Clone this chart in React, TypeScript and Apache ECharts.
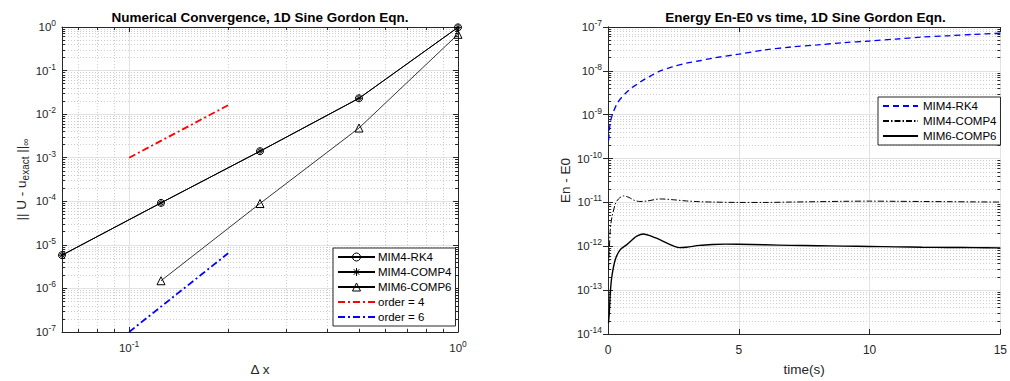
import React, { useEffect, useRef } from 'react';
import * as echarts from 'echarts';

// ---------- Data: left plot (convergence) ----------
const dxValues = [1 / 16, 1 / 8, 1 / 4, 1 / 2, 1];
const errMIM4RK4 = [5.8e-6, 9.2e-5, 1.41e-3, 2.31e-2, 0.98];
const errMIM4COMP4 = [5.8e-6, 9.2e-5, 1.41e-3, 2.31e-2, 0.98];
const dxValues6 = [1 / 8, 1 / 4, 1 / 2, 1];
const errMIM6COMP6 = [1.5e-6, 8.9e-5, 4.8e-3, 0.68];
const refDx = [0.1, 0.2];
const refOrder4 = [1e-3, 1.6e-2];
const refOrder6 = [1e-7, 6.4e-6];

// ---------- Data: right plot (energy) ----------
const rk4Time = [0.025, 0.09, 0.2, 0.35, 0.5, 0.7, 0.9, 1.1, 1.3, 1.6, 2.0, 2.5, 3.0, 3.5, 4.0, 5, 6, 7, 8, 9, 10, 11, 12, 13, 14, 15];
const rk4Energy = [2.6e-10, 6.8e-10, 1.13e-9, 1.8e-9, 2.4e-9, 3.2e-9, 4.1e-9, 4.9e-9, 5.9e-9, 7.5e-9, 1.0e-8, 1.25e-8, 1.5e-8, 1.7e-8, 1.95e-8, 2.4e-8, 3.0e-8, 3.5e-8, 3.9e-8, 4.4e-8, 4.8e-8, 5.3e-8, 5.9e-8, 6.3e-8, 6.8e-8, 7.2e-8];

const comp4Time = [0.02, 0.05, 0.09, 0.15, 0.28, 0.4, 0.59, 0.8, 1.0, 1.22, 1.5, 2.0, 2.5, 3.0, 3.5, 4, 5, 6, 7, 8, 9, 10, 11, 12, 13, 14, 15];
const comp4Energy = [3e-13, 8e-13, 2.5e-12, 4.6e-12, 9.2e-12, 1.2e-11, 1.41e-11, 1.3e-11, 1.12e-11, 1.05e-11, 1.08e-11, 1.2e-11, 1.15e-11, 1.08e-11, 1.04e-11, 1.02e-11, 1.0e-11, 1.0e-11, 1.02e-11, 1.04e-11, 1.06e-11, 1.07e-11, 1.06e-11, 1.05e-11, 1.04e-11, 1.03e-11, 1.02e-11];

const comp6Time = [0.02, 0.05, 0.09, 0.15, 0.28, 0.47, 0.72, 0.95, 1.1, 1.35, 1.6, 2.0, 2.24, 2.5, 2.74, 3.0, 3.5, 4.0, 4.5, 5, 6, 7, 8, 9, 10, 11, 12, 13, 14, 15];
const comp6Energy = [1.8e-14, 3e-14, 9e-14, 2.1e-13, 5e-13, 8.4e-13, 1.09e-12, 1.45e-12, 1.7e-12, 1.9e-12, 1.75e-12, 1.4e-12, 1.19e-12, 1.02e-12, 0.93e-12, 0.95e-12, 1.05e-12, 1.1e-12, 1.12e-12, 1.11e-12, 1.08e-12, 1.05e-12, 1.03e-12, 1.01e-12, 0.99e-12, 0.97e-12, 0.95e-12, 0.94e-12, 0.93e-12, 0.92e-12];

// ---------- Axis ranges / ticks ----------
const leftXRange = [1 / 16, 1];
const leftYRange = [1e-7, 1];
const rightXRange = [0, 15];
const rightXTicks = [0, 5, 10, 15];
const rightYRange = [1e-14, 1e-7];
const logMinorMultipliers = [2, 3, 4, 5, 6, 7, 8, 9];

const FONT = 'Liberation Sans, Arial, Helvetica, sans-serif';
const AXIS_COLOR = '#262626';
const MAJOR_GRID = '#e2e2e2';
const MINOR_GRID = '#cdcdcd';

const gridL = { left: 62, top: 27, width: 396, height: 311 };
const gridR = { left: 608, top: 27, width: 395, height: 311 };

const ASTERISK = 'path://M5,0L5,10M0,5L10,5M1.5,1.5L8.5,8.5M1.5,8.5L8.5,1.5';

function logMinors(lo: number, hi: number): number[] {
  const out: number[] = [];
  const e0 = Math.floor(Math.log10(lo));
  const e1 = Math.ceil(Math.log10(hi));
  for (let e = e0; e < e1; e++) {
    for (const k of logMinorMultipliers) {
      const v = k * Math.pow(10, e);
      if (v > lo * 1.0001 && v < hi * 0.9999) out.push(v);
    }
  }
  return out;
}

function pow10Label(value: number): string {
  const l = Math.log10(value);
  const e = Math.round(l);
  if (Math.abs(l - e) > 1e-6) return '';
  return `{b|10}{s|${e}}`;
}

const tickRich = {
  b: { fontSize: 11.5, color: AXIS_COLOR, fontFamily: FONT, lineHeight: 14 },
  s: { fontSize: 8.5, color: AXIS_COLOR, fontFamily: FONT, lineHeight: 9, padding: [0, 0, 8, 0] },
};

function zip(xs: number[], ys: number[]) {
  return xs.map((x, i) => [x, ys[i]]);
}

const TICK_PX = 3;

export default function App() {
  const ref = useRef<HTMLDivElement>(null);
  useEffect(() => {
    document.body.style.margin = '0';
    if (!ref.current) return;
    const chart = echarts.init(ref.current, undefined, { renderer: 'svg' });

    const lxMin = logMinors(leftXRange[0], leftXRange[1]);
    const lyMin = logMinors(leftYRange[0], leftYRange[1]);
    const ryMin = logMinors(rightYRange[0], rightYRange[1]);

    const lxSpan = Math.log10(leftXRange[1] / leftXRange[0]);
    const lySpan = Math.log10(leftYRange[1] / leftYRange[0]);
    const fxL = Math.pow(10, (TICK_PX * lxSpan) / gridL.width);
    const fyL = Math.pow(10, (TICK_PX * lySpan) / gridL.height);
    const dxR = (TICK_PX * (rightXRange[1] - rightXRange[0])) / gridR.width;

    const leftMinorGrid: any[] = [
      ...lxMin.map((v) => ({ coords: [[v, leftYRange[0]], [v, leftYRange[1]]] })),
      ...lyMin.map((v) => ({ coords: [[leftXRange[0], v], [leftXRange[1], v]] })),
    ];
    const rightMinorGrid: any[] = ryMin.map((v) => ({ coords: [[rightXRange[0], v], [rightXRange[1], v]] }));

    const leftMinorTicks: any[] = [];
    lyMin.forEach((v) => {
      leftMinorTicks.push({ coords: [[leftXRange[0], v], [leftXRange[0] * fxL, v]] });
      leftMinorTicks.push({ coords: [[leftXRange[1] / fxL, v], [leftXRange[1], v]] });
    });
    lxMin.forEach((v) => {
      leftMinorTicks.push({ coords: [[v, leftYRange[0]], [v, leftYRange[0] * fyL]] });
      leftMinorTicks.push({ coords: [[v, leftYRange[1] / fyL], [v, leftYRange[1]]] });
    });
    const rightMinorTicks: any[] = [];
    ryMin.forEach((v) => {
      rightMinorTicks.push({ coords: [[rightXRange[0], v], [rightXRange[0] + dxR, v]] });
      rightMinorTicks.push({ coords: [[rightXRange[1] - dxR, v], [rightXRange[1], v]] });
    });

    const linesBase = {
      type: 'lines', coordinateSystem: 'cartesian2d', silent: true, polyline: false,
      large: false, effect: { show: false },
    };

    const axisCommon = {
      axisLine: { show: true, lineStyle: { color: AXIS_COLOR, width: 1 } },
      axisTick: { show: true, inside: true, length: 5, lineStyle: { color: AXIS_COLOR } },
    };

    const legendText = { fontSize: 11.5, color: '#000', fontFamily: FONT };
    const noSymbol = { opacity: 0 };
    const hollow = { color: 'rgba(0,0,0,0)', borderColor: '#000', borderWidth: 1 };

    const option: any = {
      animation: false,
      backgroundColor: '#ffffff',
      textStyle: { fontFamily: FONT },
      grid: [
        { ...gridL, containLabel: false },
        { ...gridR, containLabel: false },
      ],
      xAxis: [
        {
          gridIndex: 0, type: 'log', min: leftXRange[0], max: leftXRange[1], position: 'bottom',
          ...axisCommon,
          axisLabel: { formatter: pow10Label, rich: tickRich, margin: 9, showMinLabel: true, showMaxLabel: true },
          splitLine: { show: true, lineStyle: { color: MAJOR_GRID } },
          name: 'Δ x', nameLocation: 'middle', nameGap: 30,
          nameTextStyle: { fontSize: 13.5, color: AXIS_COLOR, fontFamily: FONT },
        },
        {
          gridIndex: 0, type: 'log', min: leftXRange[0], max: leftXRange[1], position: 'top',
          ...axisCommon, axisLabel: { show: false }, splitLine: { show: false },
        },
        {
          gridIndex: 1, type: 'value', min: rightXRange[0], max: rightXRange[1], interval: rightXTicks[1] - rightXTicks[0], position: 'bottom',
          ...axisCommon,
          axisLabel: { fontSize: 12, color: AXIS_COLOR, fontFamily: FONT, margin: 10 },
          splitLine: { show: true, lineStyle: { color: MAJOR_GRID } },
          name: 'time(s)', nameLocation: 'middle', nameGap: 28,
          nameTextStyle: { fontSize: 13.5, color: AXIS_COLOR, fontFamily: FONT },
        },
        {
          gridIndex: 1, type: 'value', min: rightXRange[0], max: rightXRange[1], interval: rightXTicks[1] - rightXTicks[0], position: 'top',
          ...axisCommon, axisLabel: { show: false }, splitLine: { show: false },
        },
      ],
      yAxis: [
        {
          gridIndex: 0, type: 'log', min: leftYRange[0], max: leftYRange[1], position: 'left',
          ...axisCommon,
          axisLabel: { formatter: pow10Label, rich: tickRich, margin: 6 },
          splitLine: { show: true, lineStyle: { color: MAJOR_GRID } },
          name: '{n|\u007C\u007C U - u}{sub|exact}{n| \u007C\u007C}{sub|\u221E}',
          nameLocation: 'middle', nameGap: 33, nameRotate: 90,
          nameTextStyle: {
            rich: {
              n: { fontSize: 13.5, color: AXIS_COLOR, fontFamily: FONT, lineHeight: 16 },
              sub: { fontSize: 10, color: AXIS_COLOR, fontFamily: FONT, lineHeight: 11, padding: [9, 0, 0, 0] },
            },
          },
        },
        {
          gridIndex: 0, type: 'log', min: leftYRange[0], max: leftYRange[1], position: 'right',
          ...axisCommon, axisLabel: { show: false }, splitLine: { show: false },
        },
        {
          gridIndex: 1, type: 'log', min: rightYRange[0], max: rightYRange[1], position: 'left',
          ...axisCommon,
          axisLabel: { formatter: pow10Label, rich: tickRich, margin: 6 },
          splitLine: { show: true, lineStyle: { color: MAJOR_GRID } },
          name: 'En - E0', nameLocation: 'middle', nameGap: 36, nameRotate: 90,
          nameTextStyle: { fontSize: 13.5, color: AXIS_COLOR, fontFamily: FONT },
        },
        {
          gridIndex: 1, type: 'log', min: rightYRange[0], max: rightYRange[1], position: 'right',
          ...axisCommon, axisLabel: { show: false }, splitLine: { show: false },
        },
      ],
      graphic: [
        {
          type: 'text', x: gridL.left + gridL.width / 2, y: 17,
          style: { text: 'Numerical Convergence, 1D Sine Gordon Eqn.', textAlign: 'center', textVerticalAlign: 'middle', font: `bold 13.5px ${FONT}`, fill: '#000' },
        },
        {
          type: 'text', x: gridR.left + gridR.width / 2, y: 17,
          style: { text: 'Energy En-E0 vs time, 1D Sine Gordon Eqn.', textAlign: 'center', textVerticalAlign: 'middle', font: `bold 13.5px ${FONT}`, fill: '#000' },
        },
      ],
      legend: [
        {
          data: [
            { name: 'MIM4-RK4', itemStyle: hollow },
            { name: 'MIM4-COMP4', itemStyle: hollow },
            { name: 'MIM6-COMP6', itemStyle: hollow },
            { name: 'order = 4', itemStyle: noSymbol },
            { name: 'order = 6', itemStyle: noSymbol },
          ],
          orient: 'vertical', left: 333, top: 248,
          itemWidth: 37, itemHeight: 10, itemGap: 3,
          padding: [3, 4, 3, 4],
          borderColor: AXIS_COLOR, borderWidth: 1, backgroundColor: '#fff',
          textStyle: { ...legendText, padding: [0, 0, 0, -2] },
          selectedMode: false,
        },
        {
          data: [
            { name: 'E:MIM4-RK4', itemStyle: noSymbol },
            { name: 'E:MIM4-COMP4', itemStyle: noSymbol },
            { name: 'E:MIM6-COMP6', itemStyle: noSymbol },
          ],
          formatter: (n: string) => n.replace(/^E:/, ''),
          orient: 'vertical', left: 878, top: 97,
          itemWidth: 35, itemHeight: 10, itemGap: 3,
          padding: [3, 4, 3, 4],
          borderColor: AXIS_COLOR, borderWidth: 1, backgroundColor: '#fff',
          textStyle: { ...legendText },
          selectedMode: false,
        },
      ],
      series: [
        {
          ...linesBase, name: 'gridL', xAxisIndex: 0, yAxisIndex: 0,
          lineStyle: { color: MINOR_GRID, width: 1, type: [1, 2], opacity: 1 },
          data: leftMinorGrid,
        },
        {
          ...linesBase, name: 'ticksL', xAxisIndex: 0, yAxisIndex: 0,
          lineStyle: { color: AXIS_COLOR, width: 1, type: 'solid', opacity: 1 },
          data: leftMinorTicks,
        },
        {
          type: 'line', name: 'MIM4-RK4', xAxisIndex: 0, yAxisIndex: 0,
          data: zip(dxValues, errMIM4RK4),
          symbol: 'circle', symbolSize: 7, showAllSymbol: true,
          lineStyle: { color: '#000', width: 1 },
          itemStyle: hollow,
        },
        {
          type: 'line', name: 'MIM4-COMP4', xAxisIndex: 0, yAxisIndex: 0,
          data: zip(dxValues, errMIM4COMP4),
          symbol: ASTERISK, symbolSize: 7, showAllSymbol: true,
          lineStyle: { color: '#000', width: 1 },
          itemStyle: hollow,
        },
        {
          type: 'line', name: 'MIM6-COMP6', xAxisIndex: 0, yAxisIndex: 0,
          data: zip(dxValues6, errMIM6COMP6),
          symbol: 'triangle', symbolSize: 8, showAllSymbol: true,
          lineStyle: { color: '#000', width: 0.8 },
          itemStyle: hollow,
        },
        {
          type: 'line', name: 'order = 4', xAxisIndex: 0, yAxisIndex: 0,
          data: zip(refDx, refOrder4), symbol: 'none',
          lineStyle: { color: '#ff0000', width: 1.8, type: [7, 3, 2, 3] },
          itemStyle: { color: '#ff0000' },
        },
        {
          type: 'line', name: 'order = 6', xAxisIndex: 0, yAxisIndex: 0,
          data: zip(refDx, refOrder6), symbol: 'none',
          lineStyle: { color: '#0000ff', width: 1.8, type: [7, 3, 2, 3] },
          itemStyle: { color: '#0000ff' },
        },
        {
          ...linesBase, name: 'gridR', xAxisIndex: 2, yAxisIndex: 2,
          lineStyle: { color: MINOR_GRID, width: 1, type: [1, 2], opacity: 1 },
          data: rightMinorGrid,
        },
        {
          ...linesBase, name: 'ticksR', xAxisIndex: 2, yAxisIndex: 2,
          lineStyle: { color: AXIS_COLOR, width: 1, type: 'solid', opacity: 1 },
          data: rightMinorTicks,
        },
        {
          type: 'line', name: 'E:MIM4-RK4', xAxisIndex: 2, yAxisIndex: 2,
          data: zip(rk4Time, rk4Energy), symbol: 'none', smooth: 0.3,
          lineStyle: { color: '#0000ff', width: 1.3, type: [6, 4] },
          itemStyle: { color: '#0000ff' },
        },
        {
          type: 'line', name: 'E:MIM4-COMP4', xAxisIndex: 2, yAxisIndex: 2,
          data: zip(comp4Time, comp4Energy), symbol: 'none', smooth: 0.3,
          lineStyle: { color: '#000', width: 1, type: [6, 2, 1.5, 2] },
          itemStyle: { color: '#000' },
        },
        {
          type: 'line', name: 'E:MIM6-COMP6', xAxisIndex: 2, yAxisIndex: 2,
          data: zip(comp6Time, comp6Energy), symbol: 'none', smooth: 0.3,
          lineStyle: { color: '#000', width: 1.4 },
          itemStyle: { color: '#000' },
        },
      ],
    };
    chart.setOption(option);
    return () => chart.dispose();
  }, []);
  return <div ref={ref} style={{ width: 1010, height: 381 }} />;
}
